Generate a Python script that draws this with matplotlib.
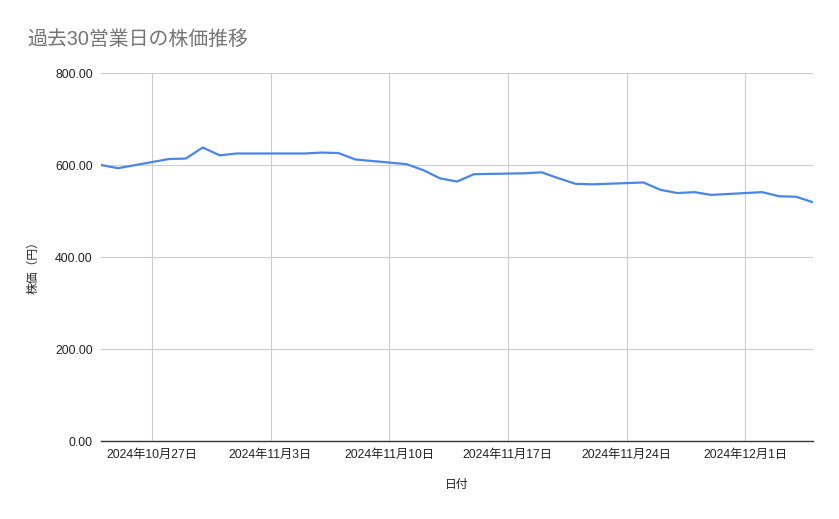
import matplotlib
matplotlib.use("Agg")
import matplotlib.pyplot as plt
import matplotlib.dates as mdates
from matplotlib.ticker import FuncFormatter, MultipleLocator
from datetime import date

plt.rcParams['font.family'] = ['Liberation Sans', 'Noto Sans CJK JP', 'DejaVu Sans']

# 営業日（30日分）
dates = [
    "2024-10-24", "2024-10-25", "2024-10-28", "2024-10-29", "2024-10-30",
    "2024-10-31", "2024-11-01", "2024-11-05", "2024-11-06", "2024-11-07",
    "2024-11-08", "2024-11-11", "2024-11-12", "2024-11-13", "2024-11-14",
    "2024-11-15", "2024-11-18", "2024-11-19", "2024-11-20", "2024-11-21",
    "2024-11-22", "2024-11-25", "2024-11-26", "2024-11-27", "2024-11-28",
    "2024-11-29", "2024-12-02", "2024-12-03", "2024-12-04", "2024-12-05",
]
prices = [
    600, 593, 613, 614, 638,
    621, 625, 625, 627, 626,
    612, 602, 589, 571, 564,
    580, 582, 584, 571, 559,
    558, 562, 546, 539, 541,
    535, 541, 532, 531, 519,
]

x = [date.fromisoformat(d) for d in dates]

fig = plt.figure(figsize=(8.39, 5.19), dpi=100)
ax = fig.add_axes([101 / 839, 78 / 519, 712 / 839, 368 / 519])

ax.plot(x, prices, color='#4a86e8', lw=1.6, solid_joinstyle='round')

ax.set_ylim(0, 800)
ax.set_xlim(x[0], x[-1])
ax.yaxis.set_major_locator(MultipleLocator(200))
ax.yaxis.set_major_formatter(FuncFormatter(lambda v, p: f"{v:.2f}"))

ax.xaxis.set_major_locator(mdates.WeekdayLocator(byweekday=mdates.SU))


def jp_date(v, p):
    d = mdates.num2date(v)
    return f"{d.year}年{d.month}月{d.day}日"


ax.xaxis.set_major_formatter(FuncFormatter(jp_date))

ax.grid(True, color='#cccccc', lw=0.8)
ax.set_axisbelow(True)
for s in ['top', 'right', 'left']:
    ax.spines[s].set_visible(False)
ax.spines['bottom'].set_color('#333333')
ax.spines['bottom'].set_linewidth(1.0)
ax.tick_params(length=0, labelsize=8.8, colors='#222222', pad=6)

ax.set_xlabel('日付', fontsize=8.5, color='#222222', labelpad=13)
ax.set_ylabel('株価（円）', fontsize=8.5, color='#222222')
ax.yaxis.set_label_coords(-0.086, 0.48)

fig.text(27 / 839, 1 - 39 / 519, '過去30営業日の株価推移', fontsize=14.3,
         color='#757575', va='center', ha='left')

fig.savefig('out.png', dpi=100)
